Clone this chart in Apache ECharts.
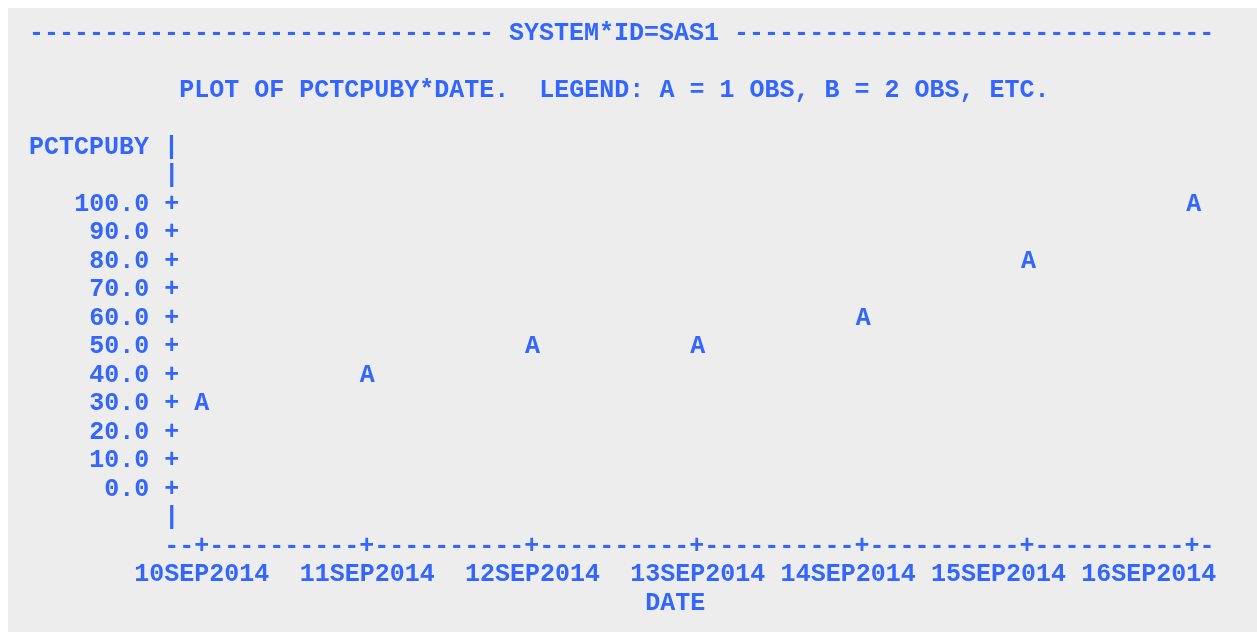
<!DOCTYPE html>
<html>
<head>
<meta charset="utf-8">
<script src="https://cdn.jsdelivr.net/npm/echarts@6/dist/echarts.min.js"></script>
<style>
  html, body { margin: 0; padding: 0; background: #fff; }
  #main { width: 1257px; height: 632px; }
</style>
</head>
<body>
<div id="main"></div>
<script>
var dates = ['10SEP2014', '11SEP2014', '12SEP2014', '13SEP2014', '14SEP2014', '15SEP2014', '16SEP2014'];
var pctcpuby = [30, 40, 50, 50, 60, 80, 100];
var plotSymbols = ['A', 'A', 'A', 'A', 'A', 'A', 'A'];

var chartDom = document.getElementById('main');
var myChart = echarts.init(chartDom);
var option;

// line printer grid: one character cell = CW x RH pixels
var CW = 15.03, RH = 28.5, X0 = 29, Y0 = 33.5;
var BLUE = '#3366ff';
var FONT = 'bold 25px "Liberation Mono", "Courier New", monospace';
var LAST_COL = 78;
function cx(c) { return X0 + CW * c; }
function cy(r) { return Y0 + RH * r; }
function txt(c, r, s) {
  return {
    type: 'text', x: cx(c), y: cy(r), silent: true,
    style: { text: s, font: FONT, fill: BLUE, align: 'left', verticalAlign: 'middle' }
  };
}

// axis line built from the number of dates
var axisStr = '--+';
for (var i = 1; i < dates.length; i++) axisStr += '----------+';
axisStr += '-';

// like the printer: labels that would run past the line are pushed left
var shifts = [];
var limit = LAST_COL + 1;
for (var j = dates.length - 1; j >= 0; j--) {
  var len = dates[j].length;
  var start = 11 + 11 * j - Math.floor(len / 2);
  var s = Math.max(0, start + len - limit);
  shifts[j] = s;
  limit = start - s - 1;
}
var rich = {};
for (var k = 0; k <= 5; k++) {
  rich['s' + k] = { padding: [0, 2 * k * CW, 0, 0] };
}

option = {
  backgroundColor: '#ffffff',
  textStyle: { fontFamily: '"Liberation Mono", monospace' },
  graphic: [
    { type: 'rect', shape: { x: 8, y: 8, width: 1260, height: 640 }, style: { fill: '#ededed' }, z: -10, silent: true },
    txt(0, 0, '------------------------------- SYSTEM*ID=SAS1 --------------------------------'),
    txt(10, 2, 'PLOT OF PCTCPUBY*DATE.  LEGEND: A = 1 OBS, B = 2 OBS, ETC.'),
    txt(0, 4, 'PCTCPUBY |'),
    txt(9, 5, '|'),
    txt(9, 17, '|'),
    txt(9, 18, axisStr),
    txt(41, 20, 'DATE')
  ],
  grid: {
    left: cx(11) + CW / 2,
    right: 1257 - (cx(77) + CW / 2),
    top: cy(6),
    bottom: 632 - cy(16),
    outerBoundsMode: 'none'
  },
  xAxis: {
    type: 'category',
    data: dates,
    boundaryGap: false,
    axisLine: { show: false },
    axisTick: { show: false },
    splitLine: { show: false },
    axisLabel: {
      interval: 0,
      margin: RH * 3,
      verticalAlign: 'middle',
      hideOverlap: false,
      formatter: function (v, idx) { return '{s' + shifts[idx] + '|' + v + '}'; },
      rich: rich,
      color: BLUE,
      fontSize: 25,
      fontWeight: 'bold',
      fontFamily: '"Liberation Mono", monospace'
    }
  },
  yAxis: {
    type: 'value',
    min: 0,
    max: 100,
    interval: 10,
    axisLine: { show: false },
    axisTick: { show: false },
    splitLine: { show: false },
    axisLabel: {
      margin: CW * 1.5,
      formatter: function (v) { return v.toFixed(1) + ' +'; },
      color: BLUE,
      fontSize: 25,
      fontWeight: 'bold',
      fontFamily: '"Liberation Mono", monospace'
    }
  },
  series: [
    {
      type: 'scatter',
      data: pctcpuby,
      symbolSize: 10,
      itemStyle: { color: 'transparent', opacity: 1 },
      label: {
        show: true,
        position: 'inside',
        formatter: function (p) { return plotSymbols[p.dataIndex]; },
        color: BLUE,
        opacity: 1,
        textBorderWidth: 0,
        fontSize: 25,
        fontWeight: 'bold',
        fontFamily: '"Liberation Mono", monospace'
      },
      emphasis: { disabled: true }
    }
  ]
};

option && myChart.setOption(option);
</script>
</body>
</html>
